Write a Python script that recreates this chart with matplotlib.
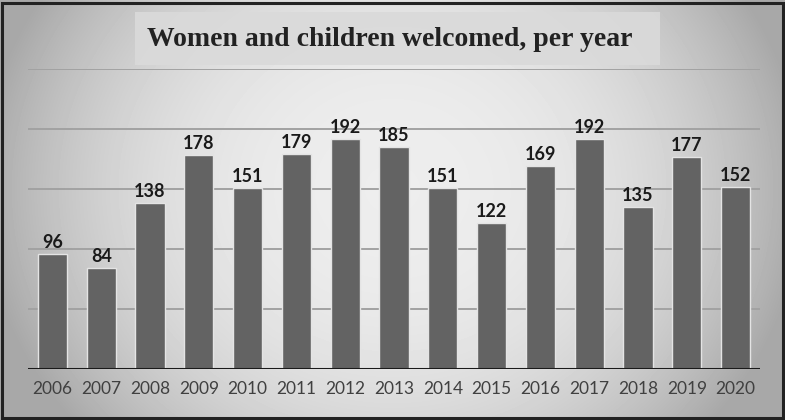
import numpy as np
import matplotlib
matplotlib.use("Agg")
import matplotlib.pyplot as plt
from matplotlib.patches import Rectangle

years = ["2006", "2007", "2008", "2009", "2010", "2011", "2012", "2013",
         "2014", "2015", "2016", "2017", "2018", "2019", "2020"]
welcomed = [96, 84, 138, 178, 151, 179, 192, 185, 151, 122, 169, 192, 135, 177, 152]
grid_vals = [50, 100, 150, 200, 250]

fig = plt.figure(figsize=(7.85, 4.2), dpi=100)

# radial gray background
bg = fig.add_axes([0, 0, 1, 1], zorder=0)
xx, yy = np.meshgrid(np.linspace(-1, 1, 785), np.linspace(-1, 1, 420))
r = np.sqrt(xx ** 2 + ((yy + 0.1) * 0.6) ** 2)
shade = np.clip(0.93 - 0.24 * r ** 2.5, 0.66, 1)
bg.imshow(shade, cmap="gray", vmin=0, vmax=1, aspect="auto", extent=[0, 1, 0, 1])
bg.set_xlim(0, 1)
bg.set_ylim(0, 1)
bg.axis("off")
bg.add_patch(Rectangle((0.003, 0.004), 0.994, 0.99, fill=False, ec="#222222", lw=2.2))

# title box
bg.add_patch(Rectangle((135 / 785, 1 - 65 / 420), (660 - 135) / 785, 53 / 420,
                       fc="#dadada", ec="none", alpha=0.9))
bg.text(390 / 785, 1 - 39 / 420, "Women and children welcomed, per year", ha="center", va="center",
        fontsize=20, fontweight="bold", family="Liberation Serif", color="#222222")

ax = fig.add_axes([28 / 785, 51 / 420, 732 / 785, 300 / 420], zorder=1)
ax.patch.set_alpha(0)
x = np.arange(len(years))
for g in grid_vals:
    ax.axhline(g, color="#a2a2a2", lw=1.4, zorder=1)
bars = ax.bar(x, welcomed, width=0.6, color="#636363", edgecolor="#e4e4e4", linewidth=1.0, zorder=2)
for xi, v in zip(x, welcomed):
    ax.text(xi, v + 2.5, str(v), ha="center", va="bottom", fontsize=13, fontweight="bold",
            family="Lato", color="#1a1a1a")
ax.axhline(0, color="#1a1a1a", lw=2.2, zorder=3)
ax.set_xlim(-0.5, len(years) - 0.5)
ax.set_ylim(0, 250)
ax.set_xticks(x)
ax.set_xticklabels(years, family="Lato", fontsize=12.5, color="#404040")
ax.tick_params(axis="x", length=0, pad=9)
ax.set_yticks([])
for s in ax.spines.values():
    s.set_visible(False)

plt.savefig("out.png", dpi=100)
